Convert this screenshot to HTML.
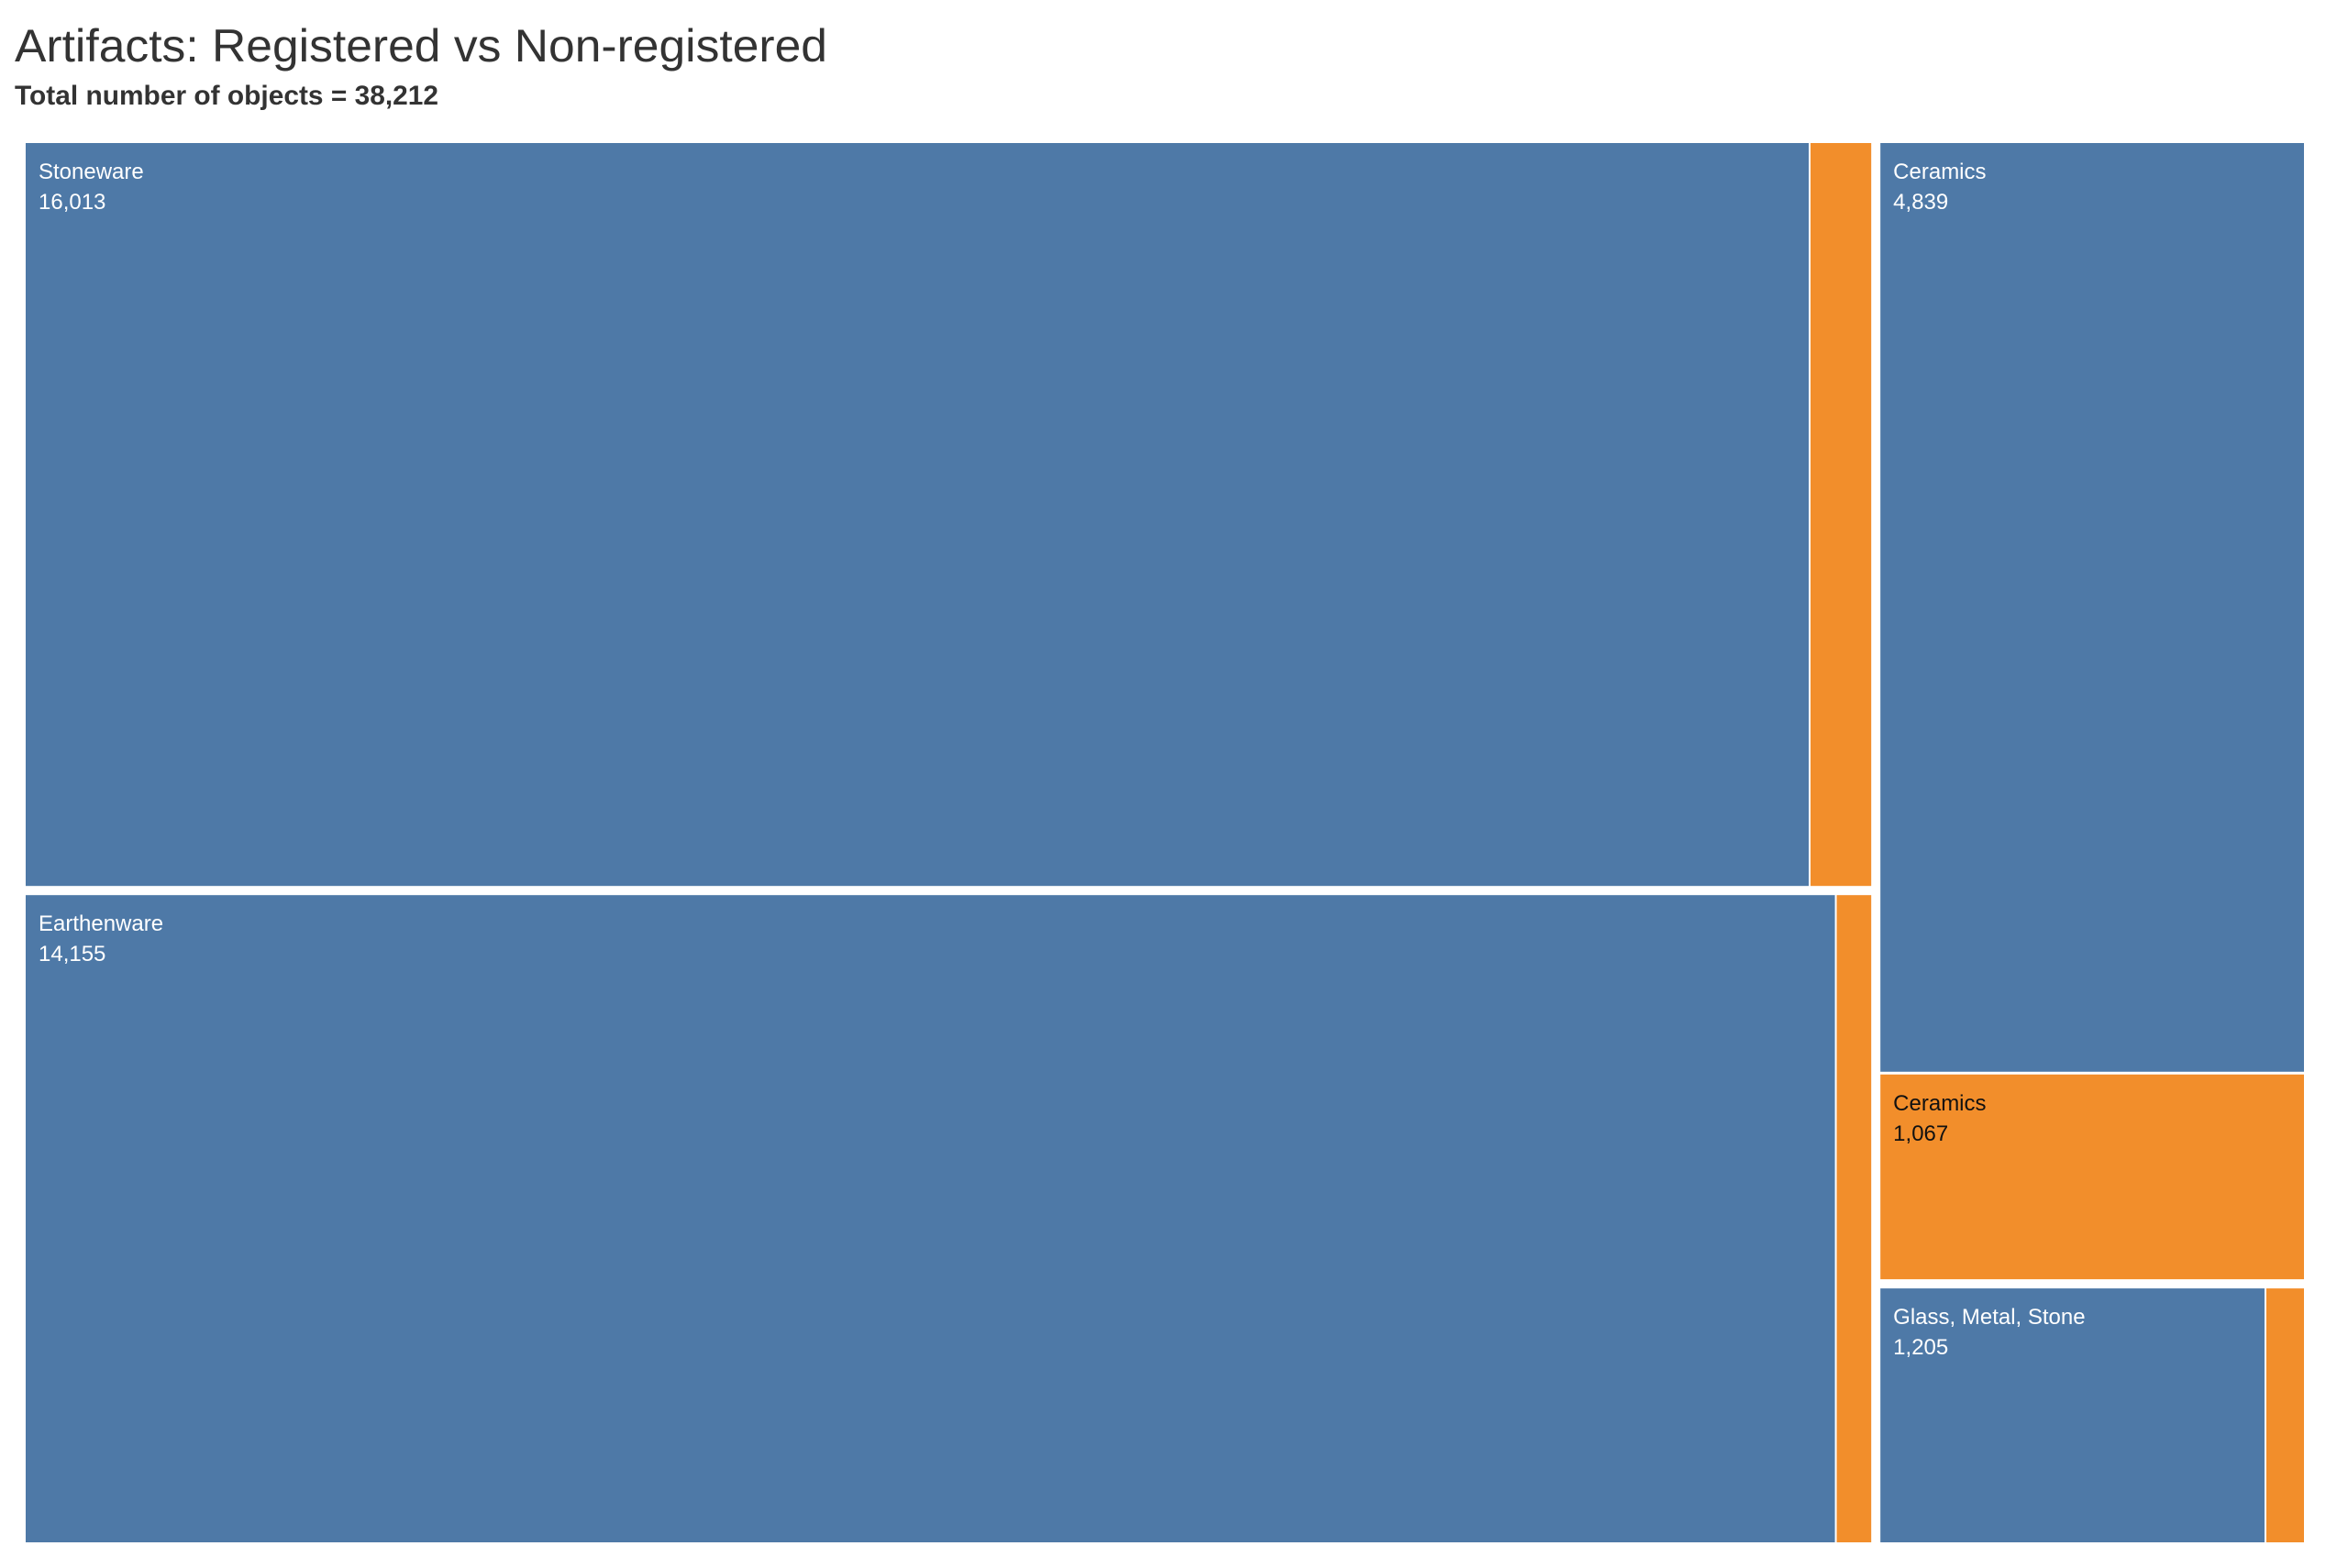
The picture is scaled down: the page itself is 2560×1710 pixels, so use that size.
<!DOCTYPE html>
<html><head><meta charset="utf-8"><style>
html,body{margin:0;padding:0;background:#fff;width:2560px;height:1710px;overflow:hidden}
svg{display:block}
</style></head><body>
<svg id="chart" width="2560" height="1710" xmlns="http://www.w3.org/2000/svg" font-family="'Liberation Sans Narrow','Liberation Sans',sans-serif">
<text x="16" y="67" font-size="50" font-weight="300" fill="#333" textLength="886" lengthAdjust="spacingAndGlyphs">Artifacts: Registered vs Non-registered</text>
<text x="16" y="114" font-size="30" font-weight="bold" fill="#333" textLength="462" lengthAdjust="spacingAndGlyphs">Total number of objects = 38,212</text>
<g id="marks"></g>
</svg>
<script>
const categories = ["Stoneware", "Earthenware", "Ceramics", "Glass, Metal, Stone"];
const registered = [16013, 14155, 4839, 1205];
const nonRegistered = [545, 270, 1067, 118];
const columnGroups = [[0, 1], [2, 3]];
const splitDirection = ["h", "h", "v", "h"];

const NS = "http://www.w3.org/2000/svg";
const g = document.getElementById("marks");
const X0 = 28, Y0 = 156, X1 = 2512, Y1 = 1682;
const GAP = 10, INNER = 2;
const BLUE = "#4e79a7", ORANGE = "#f28e2b";
const fmt = v => v.toLocaleString("en-US");

function rect(x, y, w, h, fill, name) {
  const r = document.createElementNS(NS, "rect");
  r.setAttribute("x", x); r.setAttribute("y", y);
  r.setAttribute("width", Math.max(0, w)); r.setAttribute("height", Math.max(0, h));
  r.setAttribute("fill", fill);
  
  
  g.appendChild(r);
}
function label(x, y, lines, color, name) {
  const t = document.createElementNS(NS, "text");
  t.setAttribute("x", x); t.setAttribute("y", y);
  t.setAttribute("font-size", "24");
  t.setAttribute("fill", color);
  
  
  lines.forEach((s, i) => {
    const sp = document.createElementNS(NS, "tspan");
    sp.setAttribute("x", x);
    if (i > 0) sp.setAttribute("dy", "33");
    sp.textContent = s;
    t.appendChild(sp);
  });
  g.appendChild(t);
}

const total = categories.reduce((s, _, i) => s + registered[i] + nonRegistered[i], 0);
const W = X1 - X0, H = Y1 - Y0;
let cx = X0;
columnGroups.forEach((grp) => {
  const gsum = grp.reduce((s, i) => s + registered[i] + nonRegistered[i], 0);
  const cw = gsum / total * (W + GAP) - GAP;
  let cy = Y0;
  const cells = [];
  grp.forEach(i => {
    if (splitDirection[i] === "v") {
      cells.push({i, parts: [["reg", registered[i]]]});
      cells.push({i, parts: [["non", nonRegistered[i]]]});
    } else {
      cells.push({i, parts: [["reg", registered[i]], ["non", nonRegistered[i]]]});
    }
  });
  const gaps = cells.map((c, k) => {
    if (k === cells.length - 1) return 0;
    return cells[k + 1].i === c.i ? INNER + 1 : GAP;
  });
  const totalGap = gaps.reduce((a, b) => a + b, 0);
  cells.forEach((c, k) => {
    const csum = c.parts.reduce((s, p) => s + p[1], 0);
    const ch = csum / gsum * (H - totalGap);
    const key = categories[c.i].toLowerCase().replace(/[^a-z]+/g, "-");
    if (c.parts.length === 1) {
      const isReg = c.parts[0][0] === "reg";
      rect(cx, cy, cw, ch, isReg ? BLUE : ORANGE, key + (isReg ? "-registered" : "-non-registered"));
      label(cx + 14, cy + 39, [categories[c.i], fmt(c.parts[0][1])], isReg ? "#fff" : "#111", key + (isReg ? "-registered-label" : "-non-registered-label"));
    } else {
      const rw = registered[c.i] / csum * (cw - INNER);
      rect(cx, cy, rw, ch, BLUE, key + "-registered");
      rect(cx + rw + INNER, cy, cw - rw - INNER, ch, ORANGE, key + "-non-registered");
      label(cx + 14, cy + 39, [categories[c.i], fmt(registered[c.i])], "#fff", key + "-registered-label");
    }
    cy += ch + gaps[k];
  });
  cx += cw + GAP;
});
</script>
</body></html>
